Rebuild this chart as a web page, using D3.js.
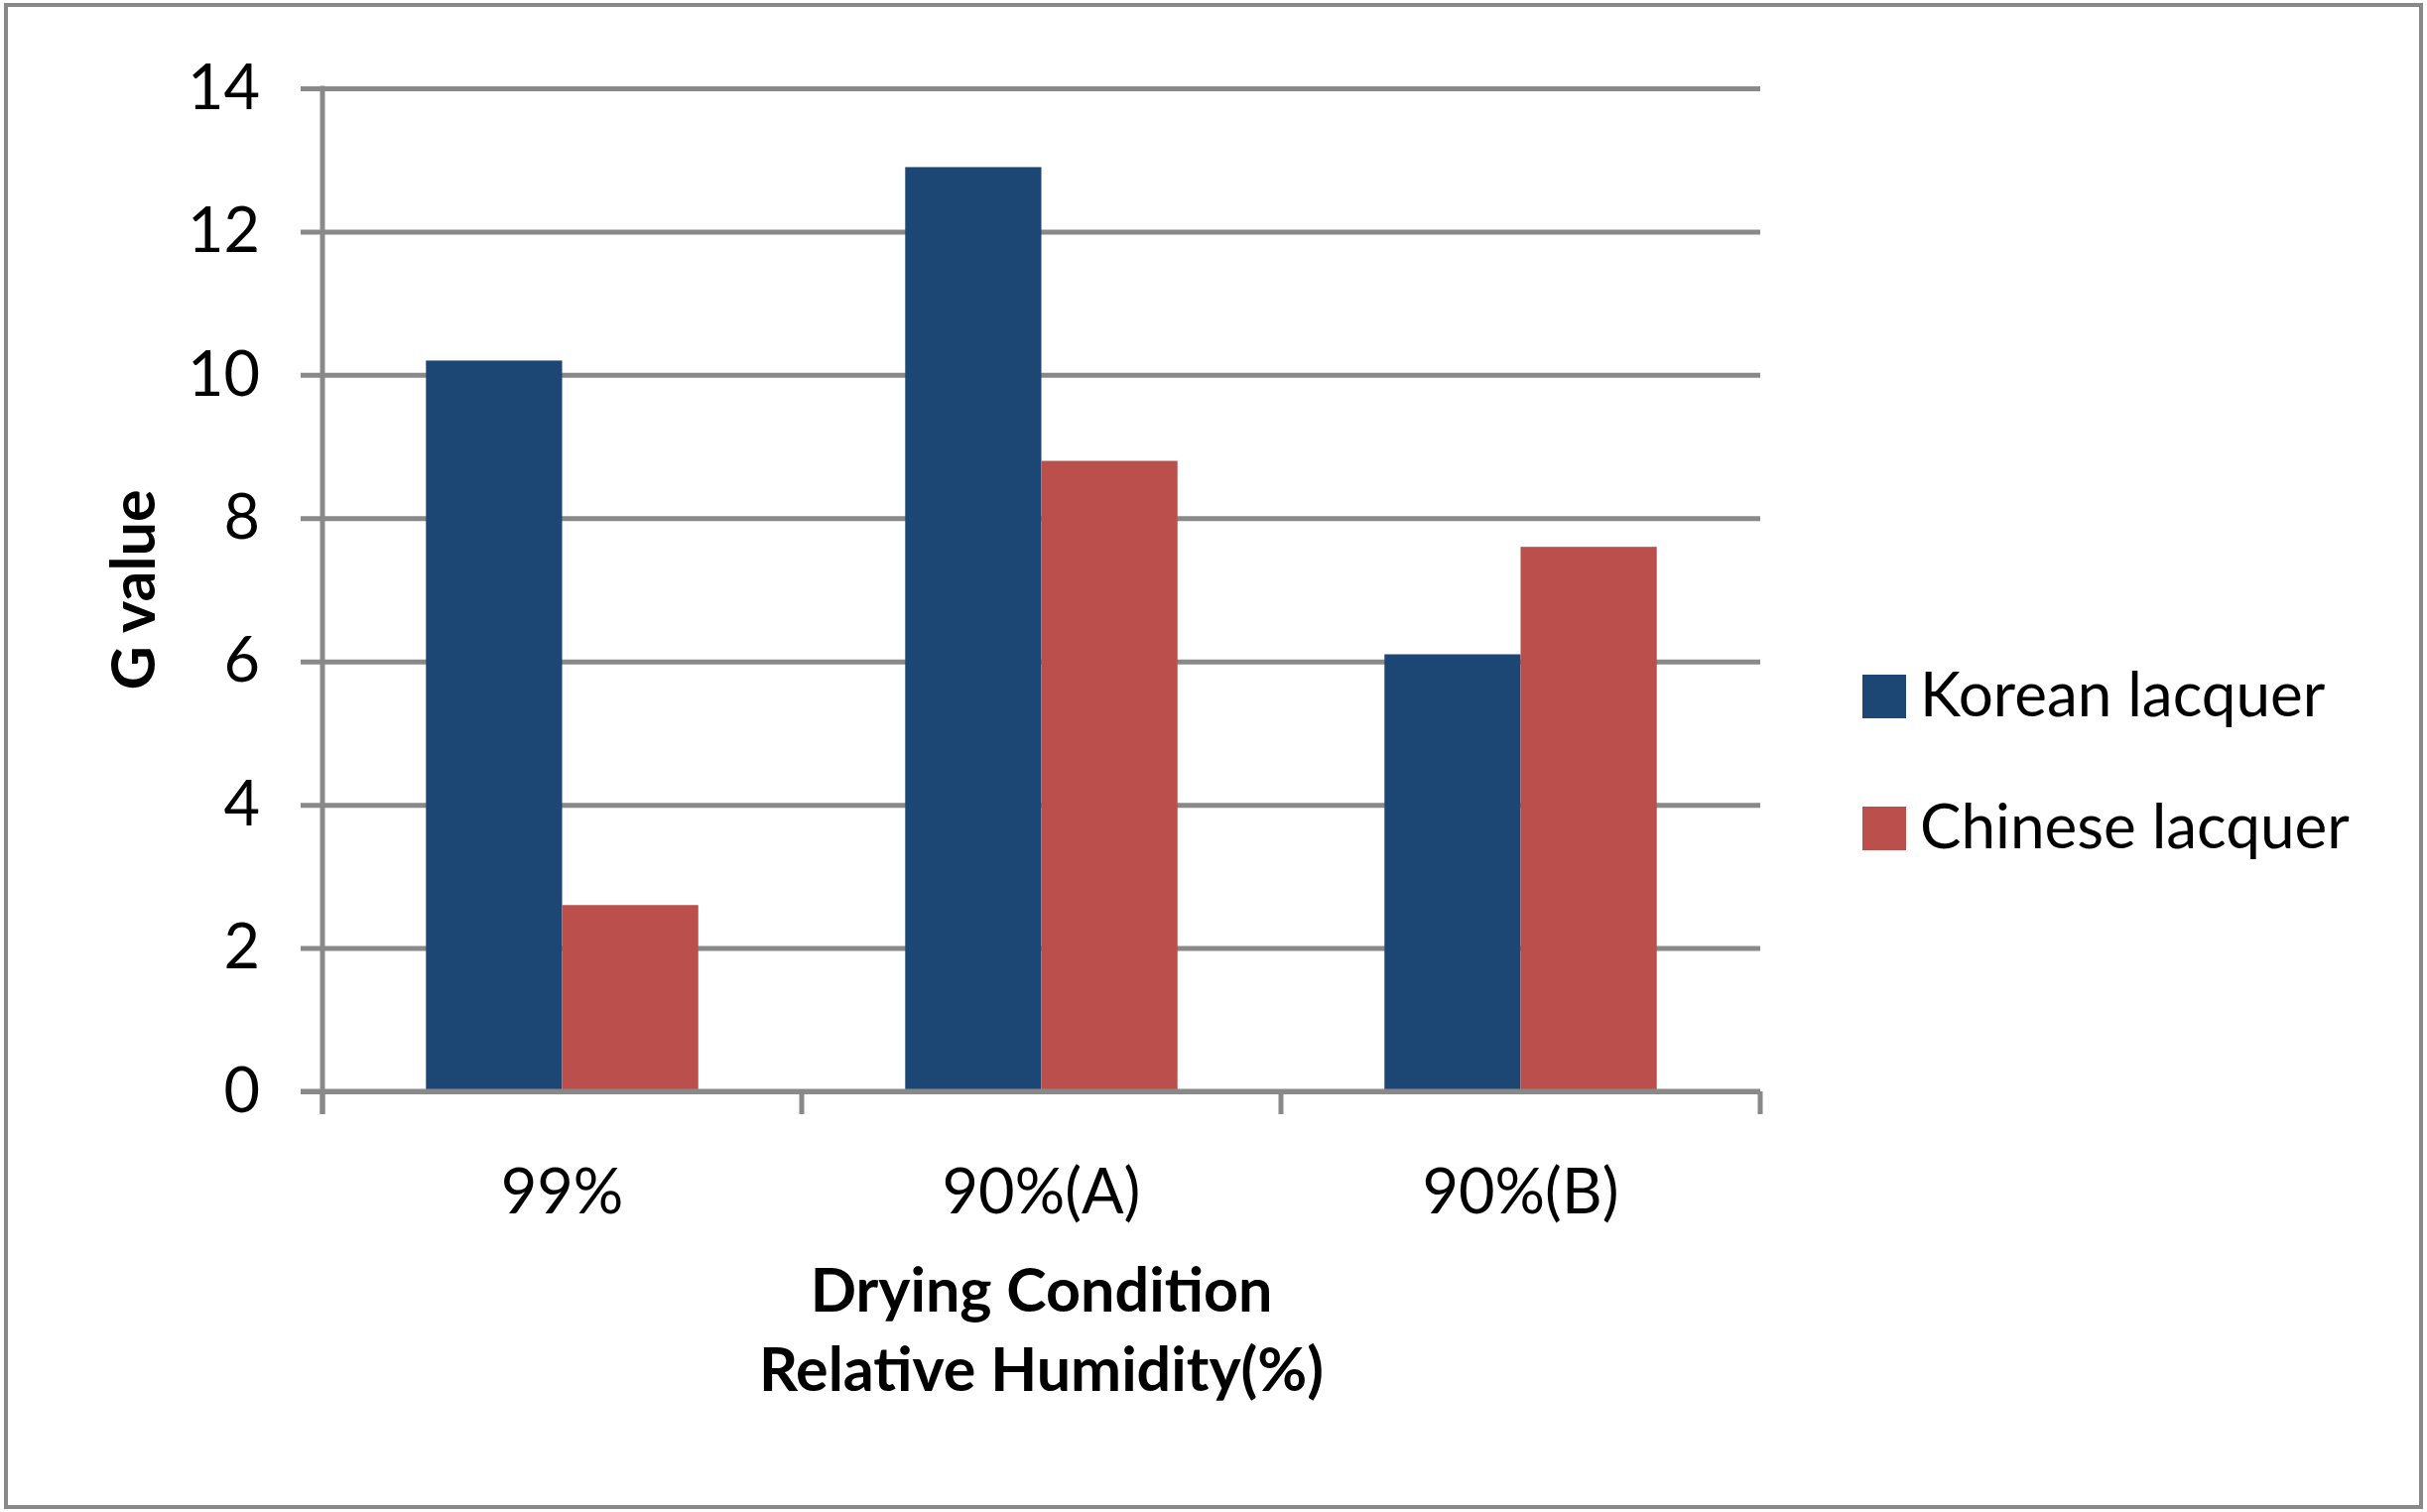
<!DOCTYPE html>
<html>
<head>
<meta charset="utf-8">
<script src="https://cdn.jsdelivr.net/npm/d3@7"></script>
<style>
  html, body { margin: 0; padding: 0; background: #fff; }
  svg { display: block; }
  text { font-family: Lato, "Open Sans", sans-serif; fill: #000; }
</style>
</head>
<body>
<svg id="chart" width="2446" height="1524"></svg>
<script>
const categories = ["99%", "90%(A)", "90%(B)"];
const seriesNames = ["Korean lacquer", "Chinese lacquer"];
const koreanValues = [10.2, 12.9, 6.1];
const chineseValues = [2.6, 8.8, 7.6];
const yTicks = [0, 2, 4, 6, 8, 10, 12, 14];
const xTitleLines = ["Drying Condition", "Relative Humidity(%)"];
const yTitle = "G value";
const colors = ["#1c4775", "#bb4f4c"];

const seriesValues = [koreanValues, chineseValues];
const data = categories.map((c, i) => ({
  category: c,
  values: seriesNames.map((s, j) => ({ series: s, value: seriesValues[j][i], idx: j }))
}));

const svg = d3.select("#chart");
const W = 2446, H = 1524;
const plot = { left: 325, right: 1774, top: 89, bottom: 1100 };
const grid = "#898989";

// outer border
svg.append("rect")
  .attr("x", 6).attr("y", 5)
  .attr("width", W - 12).attr("height", H - 10)
  .attr("fill", "#fff").attr("stroke", "#888").attr("stroke-width", 4);

const x = d3.scaleBand().domain(categories).range([plot.left, plot.right]).padding(0);
const xs = d3.scaleBand().domain(seriesNames).range([0, x.bandwidth()]).paddingInner(0).paddingOuter(0.76);
const y = d3.scaleLinear().domain([0, 14]).range([plot.bottom, plot.top]);

// gridlines with left ticks
const yAxis = d3.axisLeft(y).tickValues(yTicks)
  .tickSize(-(plot.right - plot.left)).tickSizeOuter(0).tickPadding(63).tickFormat(d3.format("d"));
const gy = svg.append("g").attr("transform", `translate(${plot.left},0)`).call(yAxis);
gy.select(".domain").remove();
gy.selectAll(".tick line").attr("stroke", grid).attr("stroke-width", 5)
  .attr("x1", -22);
gy.selectAll(".tick text").attr("font-size", 63).attr("fill", "#000")
  .attr("font-family", "Lato, sans-serif").attr("dy", "0.32em");

// bars
const groups = svg.append("g").selectAll("g").data(data).join("g")
  .attr("transform", d => `translate(${x(d.category)},0)`);
groups.selectAll("rect").data(d => d.values).join("rect")
  .attr("x", d => xs(d.series))
  .attr("width", xs.bandwidth())
  .attr("y", d => y(d.value))
  .attr("height", d => y(0) - y(d.value))
  .attr("fill", d => colors[d.idx]);

// y axis line
svg.append("line")
  .attr("x1", plot.left).attr("x2", plot.left)
  .attr("y1", plot.top - 2.5).attr("y2", plot.bottom + 23)
  .attr("stroke", grid).attr("stroke-width", 5);

// x axis line
svg.append("line")
  .attr("x1", plot.left - 22).attr("x2", plot.right)
  .attr("y1", plot.bottom).attr("y2", plot.bottom)
  .attr("stroke", grid).attr("stroke-width", 5);

// x ticks at category boundaries
const bounds = categories.map(c => x(c)).concat([x(categories[categories.length - 1]) + x.bandwidth()]);
svg.append("g").selectAll("line").data(bounds).join("line")
  .attr("x1", d => d).attr("x2", d => d)
  .attr("y1", plot.bottom).attr("y2", plot.bottom + 23)
  .attr("stroke", grid).attr("stroke-width", 5);

// x labels
svg.append("g").selectAll("text").data(categories).join("text")
  .attr("x", d => x(d) + x.bandwidth() / 2)
  .attr("y", 1223)
  .attr("text-anchor", "middle")
  .attr("font-size", 63)
  .text(d => d);

// x title
svg.append("g").selectAll("text").data(xTitleLines).join("text")
  .attr("x", (plot.left + plot.right) / 2)
  .attr("y", (d, i) => 1322 + i * 80)
  .attr("text-anchor", "middle")
  .attr("font-size", 61)
  .attr("font-weight", "bold")
  .text(d => d);

// y title
svg.append("text")
  .attr("transform", `translate(156,${(plot.top + plot.bottom) / 2}) rotate(-90)`)
  .attr("text-anchor", "middle")
  .attr("font-size", 61)
  .attr("font-weight", "bold")
  .text(yTitle);

// legend
const legend = svg.append("g").selectAll("g").data(seriesNames).join("g")
  .attr("transform", (d, i) => `translate(1877,${680 + i * 133})`);
legend.append("rect")
  .attr("width", 44).attr("height", 44)
  .attr("fill", (d, i) => colors[i]);
legend.append("text")
  .attr("x", 58).attr("y", 42)
  .attr("font-size", 62)
  .text(d => d);
</script>
</body>
</html>
